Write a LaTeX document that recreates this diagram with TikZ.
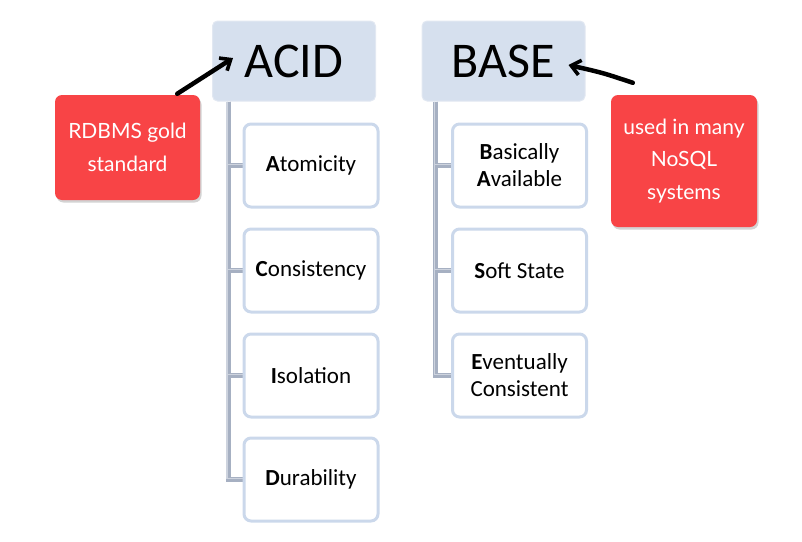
\documentclass[tikz,border=0pt]{standalone}
\usepackage{fontspec}
\setmainfont{Carlito}
\newfontfamily\handfont{Lato}
\usetikzlibrary{arrows.meta,calc,shadows}
\definecolor{hdrfill}{RGB}{214,224,238}
\definecolor{hdrline}{RGB}{226,232,242}
\definecolor{boxline}{RGB}{203,216,235}
\definecolor{trunk}{RGB}{166,176,194}
\definecolor{trunkhi}{RGB}{205,211,222}
\definecolor{notered}{RGB}{248,68,70}
\tikzset{
  header/.style={draw=hdrline, line width=1pt, fill=hdrfill, rounded corners=5pt,
    minimum width=163pt, minimum height=80pt, inner sep=0pt, font=\fontsize{50}{56}\selectfont},
  item/.style={draw=boxline, line width=3pt, fill=white, rounded corners=7pt,
    minimum width=134pt, minimum height=83pt, inner sep=0pt, align=center,
    font=\fontsize{23}{27}\selectfont},
  note/.style={fill=notered, rounded corners=7pt, inner sep=0pt, align=center,
    text=white, font=\handfont\fontsize{21}{32.5}\selectfont,
    drop shadow={shadow xshift=1.5pt, shadow yshift=-2.5pt, opacity=0.35}},
  link/.style={draw=trunk, line width=5pt},
  linkhi/.style={draw=trunkhi, line width=1.4pt},
  pointer/.style={draw=black, line width=4.5pt, line cap=round,
    -{Straight Barb[length=9pt,width=15pt,line width=3.6pt]}}
}
\begin{document}
\begin{tikzpicture}[x=1pt,y=-1pt]
\useasboundingbox (0,0) rectangle (802,541);
% headers
\node[header] (acid) at (294,61) {ACID};
\node[header] (base) at (503.5,61) {BASE};
% connectors (drawn first so boxes sit on top)
\coordinate (acidtop) at ($(acid.south west)+(16,0)$);
\coordinate (basetop) at ($(base.south west)+(14,0)$);
\coordinate (atomw) at (243,165.5);
\coordinate (consw) at (243,270.5);
\coordinate (isolw) at (243,375.5);
\coordinate (durw) at (243,479.5);
\coordinate (basw) at (451,165.5);
\coordinate (softw) at (451,270.5);
\coordinate (evenw) at (451,375.5);
\foreach \c in {atomw,consw,isolw,durw}{
  \draw[link] (acidtop) |- (\c);
}
\foreach \c in {basw,softw,evenw}{
  \draw[link] (basetop) |- (\c);
}
\foreach \c in {atomw,consw,isolw,durw}{
  \draw[linkhi] ($(acidtop)+(-1,0)$) |- ($(\c)+(0,-1)$);
}
\foreach \c in {basw,softw,evenw}{
  \draw[linkhi] ($(basetop)+(-1,0)$) |- ($(\c)+(0,-1)$);
}
% ACID items
\node[item] (atom) at (311,165.5) {\textbf{A}tomicity};
\node[item] (cons) at (311,270.5) {\textbf{C}onsistency};
\node[item] (isol) at (311,375.5) {\textbf{I}solation};
\node[item] (dur) at (311,479.5) {\textbf{D}urability};
% BASE items
\node[item] (bas) at (519.5,165.5) {\textbf{B}asically\\\textbf{A}vailable};
\node[item] (soft) at (519.5,270.5) {\textbf{S}oft State};
\node[item] (even) at (519.5,375.5) {\textbf{E}ventually\\Consistent};
% notes
\node[note, minimum width=145pt, minimum height=105pt] (rdbms) at (127.5,147.5) {RDBMS gold\\standard};
\node[note, minimum width=146pt, minimum height=132pt] (nosql) at (684,161) {used in many\\NoSQL\\systems};
% pointers
\draw[pointer] ($(rdbms.north east)+(-23,-1)$) -- ($(acid.west)+(21,-3)$);
\draw[pointer] ($(nosql.north west)+(22,-12)$) .. controls ($(nosql.north west)+(-8,-22)$) .. ($(base.east)+(-17,4)$);
\end{tikzpicture}
\end{document}
